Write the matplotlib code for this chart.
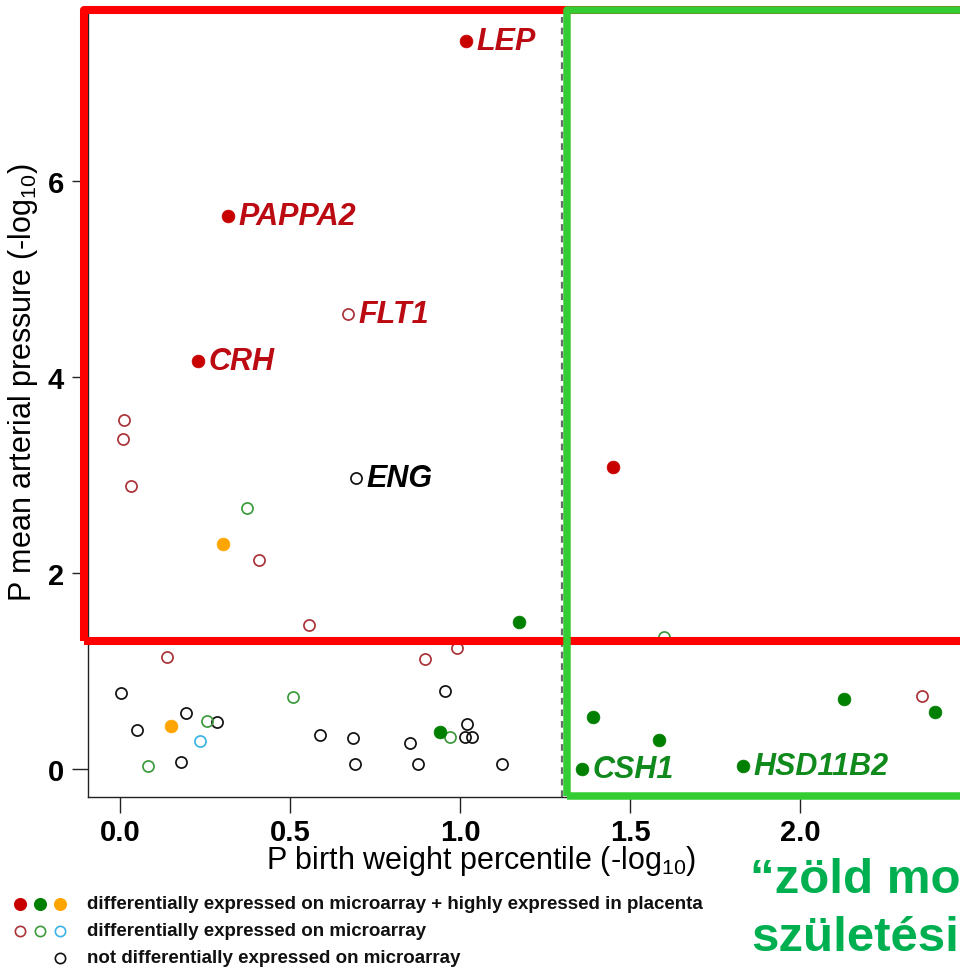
import matplotlib
matplotlib.use('Agg')
import matplotlib.pyplot as plt
from matplotlib.patches import Rectangle
import numpy as np

plt.rcParams['font.family'] = ['Liberation Sans', 'DejaVu Sans']
plt.rcParams['mathtext.fontset'] = 'custom'
plt.rcParams['mathtext.rm'] = 'Liberation Sans'
plt.rcParams['mathtext.it'] = 'Liberation Sans:italic'
plt.rcParams['mathtext.bf'] = 'Liberation Sans:bold'

# ---------------- data (-log10 P values) ----------------
# differentially expressed on microarray + highly expressed in placenta (filled)
filled_red_x = [1.018, 0.318, 0.229, 1.450]
filled_red_y = [7.43, 5.64, 4.16, 3.08]
filled_green_x = [1.173, 0.941, 1.391, 1.585, 1.359, 1.832, 2.129, 2.397]
filled_green_y = [1.50, 0.38, 0.53, 0.30, 0.00, 0.03, 0.71, 0.58]
filled_orange_x = [0.303, 0.150]
filled_orange_y = [2.30, 0.44]
# differentially expressed on microarray (open, coloured)
open_red_x = [0.671, 0.012, 0.009, 0.032, 0.409, 0.556, 0.138, 0.897, 0.991, 2.359]
open_red_y = [4.64, 3.56, 3.37, 2.89, 2.13, 1.47, 1.14, 1.12, 1.23, 0.74]
open_green_x = [0.374, 0.509, 0.256, 0.082, 0.971, 1.600]
open_green_y = [2.66, 0.73, 0.49, 0.03, 0.33, 1.35]
open_cyan_x = [0.235]
open_cyan_y = [0.29]
# not differentially expressed on microarray (open, black)
black_x = [0.694, 0.003, 0.956, 0.194, 0.285, 0.050, 0.179, 0.588, 0.685,
           0.691, 0.853, 0.876, 1.124, 1.021, 1.015, 1.035]
black_y = [2.97, 0.78, 0.80, 0.57, 0.48, 0.40, 0.07, 0.35, 0.32,
           0.05, 0.27, 0.05, 0.05, 0.46, 0.33, 0.33]

gene_names = ['LEP', 'PAPPA2', 'FLT1', 'CRH', 'ENG', 'CSH1', 'HSD11B2']
gene_x = [1.018, 0.318, 0.671, 0.229, 0.694, 1.359, 1.832]
gene_y = [7.43, 5.64, 4.64, 4.16, 2.97, 0.00, 0.03]
gene_colors = ['#bb0a12', '#bb0a12', '#bb0a12', '#bb0a12', '#000000', '#108a1c', '#108a1c']

x_ticks = [0.0, 0.5, 1.0, 1.5, 2.0]
x_tick_labels = ['0.0', '0.5', '1.0', '1.5', '2.0']
y_ticks = [0, 2, 4, 6]
y_tick_labels = ['0', '2', '4', '6']

legend_labels = ['differentially expressed on microarray + highly expressed in placenta',
                 'differentially expressed on microarray',
                 'not differentially expressed on microarray']

P_THRESHOLD = 0.05
thr = -np.log10(P_THRESHOLD)

# ---------------- colours ----------------
C_RED = '#c80000'
C_GREEN = '#008000'
C_ORANGE = '#ffa500'
C_ORED = '#aa3339'
C_OGREEN = '#3c9a3c'
C_OCYAN = '#3ab4e6'
C_BLACK = '#111111'

# ---------------- figure ----------------
W, H = 960, 970
fig = plt.figure(figsize=(W / 100, H / 100), dpi=100)
ax = fig.add_axes([88 / W, (H - 798) / H, (W - 88) / W, 798 / H])
ax.set_xlim((88 - 120) / 340, (W - 120) / 340)
ax.set_ylim((770 - 798) / 98, 770 / 98)
ax.patch.set_alpha(0)

BOX_TOP = 7.745

for s in ['top', 'right']:
    ax.spines[s].set_visible(False)
for s in ['left', 'bottom']:
    ax.spines[s].set_linewidth(1.0)
    ax.spines[s].set_color('#222222')
ax.spines['left'].set_bounds((770 - 798) / 98, BOX_TOP)

ax.set_xticks(x_ticks)
ax.set_xticklabels(x_tick_labels, fontsize=21, fontweight='bold')
ax.set_yticks(y_ticks)
ax.set_yticklabels(y_tick_labels, fontsize=21, fontweight='bold')
ax.tick_params(axis='x', length=11.5, width=1.0, pad=3.5, color='#222222')
ax.tick_params(axis='y', length=11.5, width=1.0, pad=6, color='#222222')

# threshold dashed line
ax.axvline(thr, ymin=0, ymax=(798 - 18) / 798, color='#6a6a6a', lw=1.6,
           ls=(0, (3, 2.2)), zorder=1)

MS_F = 9.2
MS_O = 8.0
MEW = 1.25


def filled(x, y, c):
    ax.plot(x, y, 'o', ls='none', ms=MS_F, mfc=c, mec=c, mew=0.5, zorder=3)


def opened(x, y, c):
    ax.plot(x, y, 'o', ls='none', ms=MS_O, mfc='none', mec=c, mew=MEW, zorder=3)


opened(black_x, black_y, C_BLACK)
opened(open_red_x, open_red_y, C_ORED)
opened(open_green_x, open_green_y, C_OGREEN)
opened(open_cyan_x, open_cyan_y, C_OCYAN)
filled(filled_red_x, filled_red_y, C_RED)
filled(filled_green_x, filled_green_y, C_GREEN)
filled(filled_orange_x, filled_orange_y, C_ORANGE)

for name, gx, gy, gc in zip(gene_names, gene_x, gene_y, gene_colors):
    ax.annotate(name, (gx, gy), xytext=(7.5, 0), textcoords='offset points',
                ha='left', va='center', fontsize=22, fontweight='bold',
                fontstyle='italic', color=gc, zorder=7)

# highlight boxes
red_box = Rectangle((-0.106, thr), 3.5, BOX_TOP - thr, fill=False, ec='#ff0000',
                    lw=5.8, clip_on=False, joinstyle='round', zorder=5)
green_box = Rectangle((1.314, -0.276), 3.5, BOX_TOP + 0.276, fill=False, ec='#33cc33',
                      lw=5.4, clip_on=False, joinstyle='round', zorder=6)
ax.add_patch(red_box)
ax.add_patch(green_box)

# axis labels
fig.text(23 / W, 1 - 383 / H, 'P mean arterial pressure (-log$_{\\mathregular{10}}$)',
         rotation=90, ha='center', va='center', fontsize=22)
fig.text(481 / W, 1 - 869 / H, 'P birth weight percentile (-log$_{\\mathregular{10}}$)',
         ha='center', va='baseline', fontsize=22)

# legend
lax = fig.add_axes([0, 0, 1, 1])
lax.set_xlim(0, W)
lax.set_ylim(H, 0)
lax.axis('off')
lax.patch.set_alpha(0)
row_y = [905, 932, 959]
row_x = [20, 40, 60]
for cx, c in zip(row_x, [C_RED, C_GREEN, C_ORANGE]):
    lax.plot([cx], [row_y[0]], 'o', ms=8.4, mfc=c, mec=c)
for cx, c in zip(row_x, [C_ORED, C_OGREEN, C_OCYAN]):
    lax.plot([cx], [row_y[1]], 'o', ms=7.4, mfc='none', mec=c, mew=1.2)
lax.plot([row_x[2]], [row_y[2]], 'o', ms=7.4, mfc='none', mec=C_BLACK, mew=1.2)
for ry, lab in zip(row_y, legend_labels):
    fig.text(87 / W, 1 - ry / H, lab, ha='left', va='center', fontsize=13.5,
             fontweight='bold', color='#111111')

# slide text (cropped at the right edge, as in the source slide)
fig.text(750 / W, 1 - 893 / H, '\u201czöld mo', ha='left', va='baseline',
         fontsize=35.5, fontweight='bold', color='#00b050')
fig.text(751 / W, 1 - 951 / H, 'születési', ha='left', va='baseline',
         fontsize=35.5, fontweight='bold', color='#00b050')

fig.savefig('out.png', dpi=100)
